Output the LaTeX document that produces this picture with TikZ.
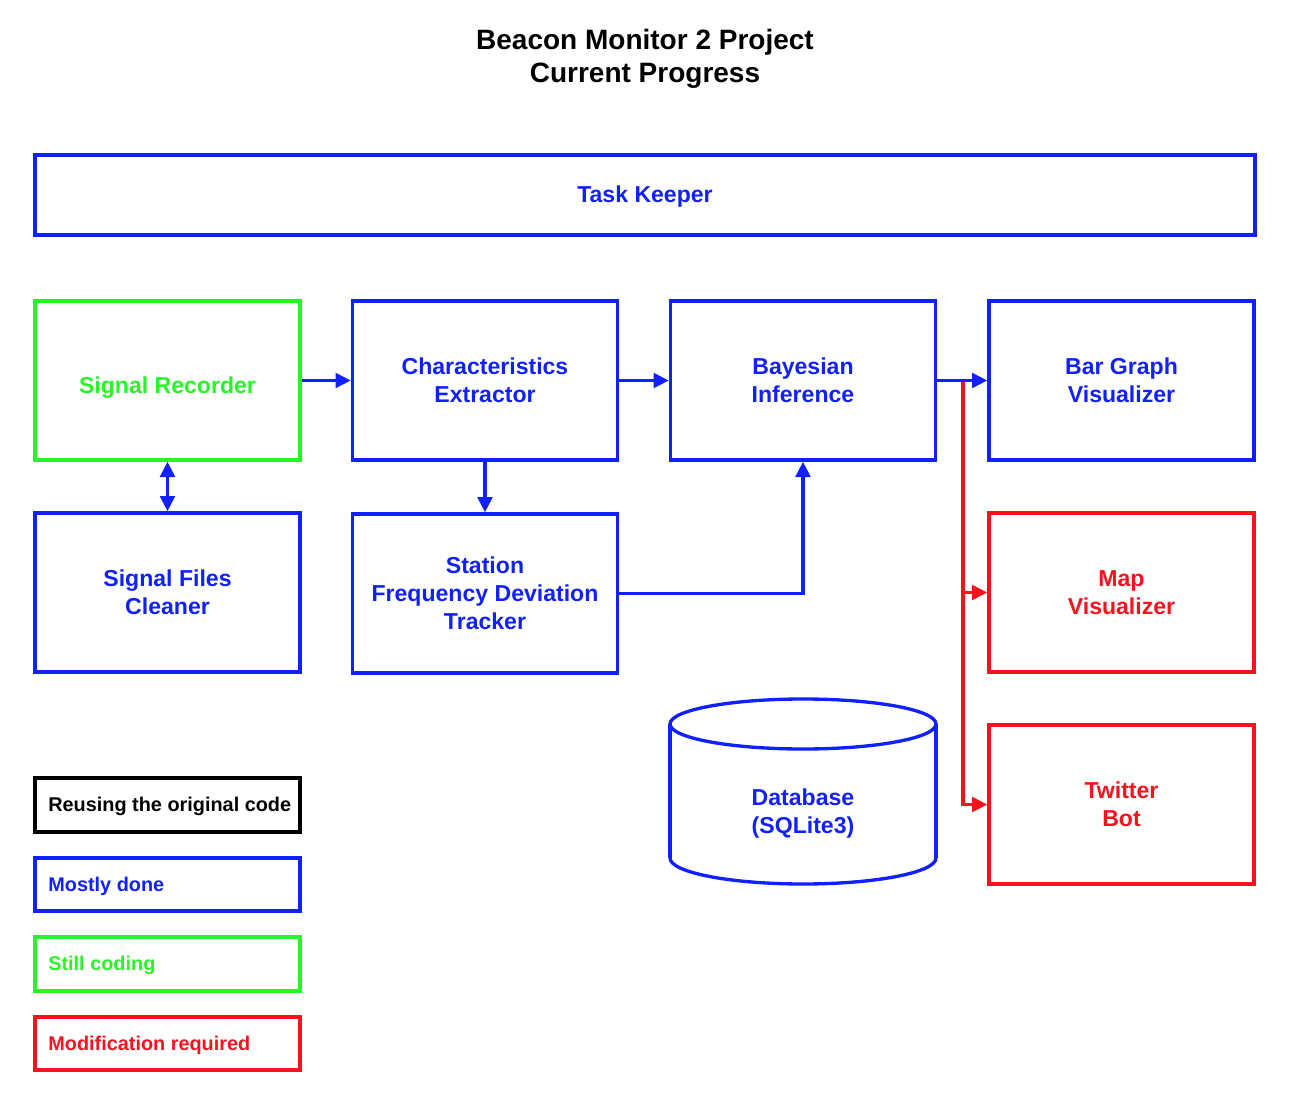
\documentclass[tikz,border=0pt]{standalone}
\usepackage{fontspec}
\setmainfont{Liberation Sans}
\usetikzlibrary{arrows.meta}
\definecolor{cblue}{RGB}{16,32,255}
\definecolor{cgreen}{RGB}{40,245,40}
\definecolor{cred}{RGB}{245,20,30}
\newcommand\legtxt[1]{\makebox[178.75pt][l]{#1}}
\tikzset{
  box/.style={draw, line width=2.5pt, rectangle, minimum width=198.75pt, minimum height=119.25pt, inner sep=2pt, align=center, font=\fontsize{17.3}{21}\selectfont\bfseries},
  bluebox/.style={box, draw=cblue, text=cblue},
  greenbox/.style={box, draw=cgreen, text=cgreen},
  redbox/.style={box, draw=cred, text=cred},
  legbox/.style={draw, line width=2.5pt, rectangle, inner xsep=10pt, inner ysep=1pt, text height=13pt, text depth=3pt, minimum width=198.75pt, minimum height=40pt, font=\fontsize{14.9}{18}\selectfont\bfseries},
  tipA/.tip={Triangle[length=11.5pt, width=11pt]},
  barrow/.style={draw=cblue, line width=2.5pt, -tipA},
  rarrow/.style={draw=cred, line width=2.5pt, -tipA},
}
\begin{document}
\begin{tikzpicture}[x=0.75pt, y=-0.75pt]
\path[use as bounding box] (0,0) rectangle (1290,1106);
\node[align=center, font=\fontsize{21}{24.75}\selectfont\bfseries] (title) at (645,59) {Beacon Monitor 2 Project\\Current Progress};
\node[bluebox, minimum width=915pt, minimum height=60pt, text height=15pt, text depth=4pt] (tk) at (645,195) {Task Keeper};
\node[greenbox, text height=24pt, text depth=4pt] (sr) at (167.5,380.5) {Signal Recorder};
\node[bluebox] (ce) at (485,380.5) {Characteristics\\Extractor};
\node[bluebox] (bi) at (803,380.5) {Bayesian\\Inference};
\node[bluebox] (bg) at (1121.5,380.5) {Bar Graph\\Visualizer};
\node[bluebox] (sf) at (167.5,592.5) {Signal Files\\Cleaner};
\node[bluebox] (st) at (485,593.5) {Station\\Frequency Deviation\\Tracker};
\node[redbox] (mv) at (1121.5,592.5) {Map\\Visualizer};
\node[redbox] (tb) at (1121.5,804.5) {Twitter\\Bot};
% database cylinder
\draw[cblue, line width=2.5pt] (803,724) ellipse [x radius=133, y radius=25];
\draw[cblue, line width=2.5pt] (670,724) -- (670,858);
\draw[cblue, line width=2.5pt] (936,724) -- (936,858);
\draw[cblue, line width=2.5pt] (670,858) arc[start angle=180, end angle=0, x radius=133, y radius=26];
\node[align=center, text=cblue, font=\fontsize{17.3}{21}\selectfont\bfseries] (db) at (803,814) {Database\\(SQLite3)};
% legend
\node[legbox, draw=black, text=black, minimum height=40.5pt] (l1) at (167.5,805) {\legtxt{Reusing the original code}};
\node[legbox, draw=cblue, text=cblue, minimum height=39.75pt] (l2) at (167.5,884.5) {\legtxt{Mostly done}};
\node[legbox, draw=cgreen, text=cgreen, minimum height=40.5pt] (l3) at (167.5,964) {\legtxt{Still coding}};
\node[legbox, draw=cred, text=cred, minimum height=39.75pt] (l4) at (167.5,1043.5) {\legtxt{Modification required}};
% connectors
\coordinate (j) at (963,382);
\draw[rarrow] (j) |- (tb.west);
\draw[rarrow] (j |- mv.west) -- (mv.west);
\draw[barrow] (sr.east) -- (ce.west);
\draw[barrow] (ce.east) -- (bi.west);
\draw[barrow] (bi.east) -- (bg.west);
\draw[barrow, tipA-tipA] (sr.south) -- (sf.north);
\draw[barrow] (ce.south) -- (st.north);
\draw[barrow] (st.east) -| (bi.south);
\end{tikzpicture}
\end{document}
